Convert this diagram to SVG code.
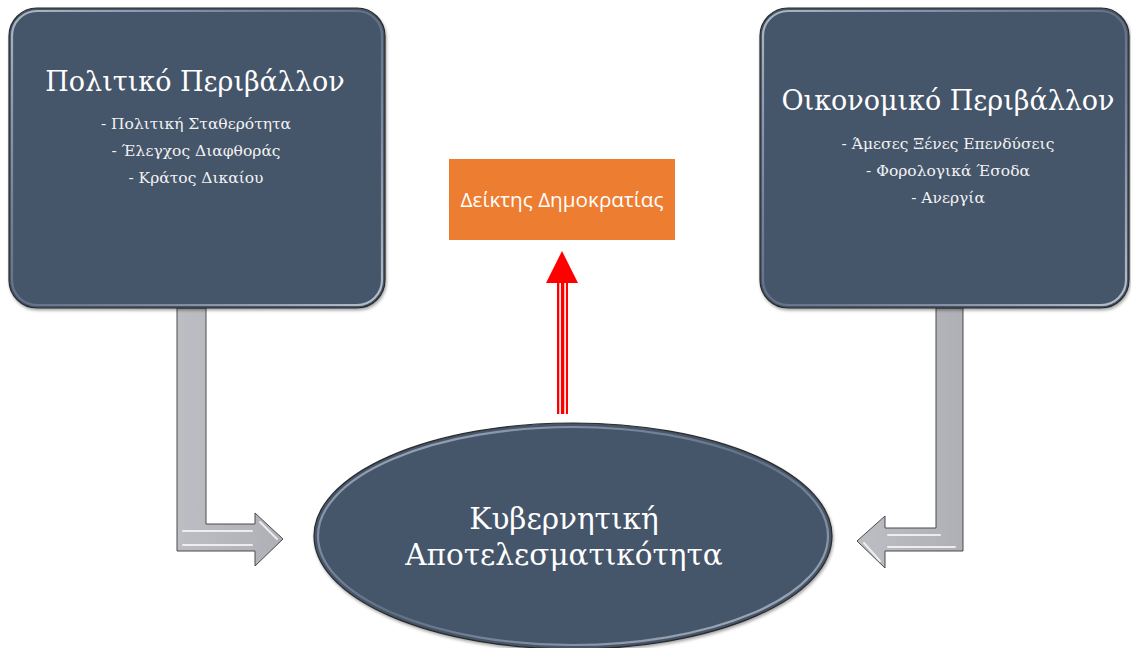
<svg xmlns="http://www.w3.org/2000/svg" width="1131" height="648" viewBox="0 0 1131 648">
<style>
.box{fill:#44546a;stroke:#2b2b2b;stroke-width:1.2}
.bevel{fill:none;stroke:url(#bev);stroke-width:2.2}
.ttl{font-family:"DejaVu Serif","Liberation Serif",serif;fill:#ffffff;text-anchor:middle}
.sub{font-family:"DejaVu Serif","Liberation Serif",serif;fill:#f2f2f2;text-anchor:middle;font-size:15.5px}
.garrow{fill:url(#gray);stroke:#4a4a4a;stroke-width:1}
.hl{stroke:#ffffff;stroke-opacity:0.75;stroke-width:2;fill:none;stroke-linecap:round}
</style>
<defs>
<linearGradient id="bev" x1="0" y1="0" x2="1" y2="1">
<stop offset="0" stop-color="#b9c3d1" stop-opacity="0.9"/>
<stop offset="0.5" stop-color="#7f8ba0" stop-opacity="0.5"/>
<stop offset="1" stop-color="#c5cdd8" stop-opacity="0.9"/>
</linearGradient>
<linearGradient id="gray" x1="0" y1="0" x2="1" y2="0">
<stop offset="0" stop-color="#bcbec3"/>
<stop offset="1" stop-color="#aeb0b5"/>
</linearGradient>
<filter id="sh" x="-10%" y="-10%" width="120%" height="120%">
<feDropShadow dx="1" dy="2" stdDeviation="1.5" flood-color="#000" flood-opacity="0.35"/>
</filter>
</defs>

<g id="connectors">
<g id="arrow-left">
<path class="garrow" d="M177,308 L206,308 L206,524 L255,524 L255,513 L283,539 L255,566 L255,551 L177,551 Z"/>
<path class="hl" d="M183,531 L252,531 M183,545 L252,545 M260,522 L277,539"/>
</g>
<g id="arrow-right">
<path class="garrow" d="M936,308 L963,308 L963,551 L885,551 L885,568 L857,541 L885,516 L885,528 L936,528 Z"/>
<path class="hl" d="M888,535 L940,535 M888,547 L955,547 M864,543 L880,561"/>
</g>
<g id="arrow-red">
<rect x="557" y="283" width="11" height="131" fill="#ff0000"/>
<rect x="559.3" y="283" width="1.6" height="131" fill="#ffffff"/>
<rect x="564.3" y="283" width="1.6" height="131" fill="#ffffff"/>
<polygon points="562,251 578,283 546,283" fill="#ff0000"/>
</g>
</g>

<g id="node-political">
<rect class="box" x="9" y="8" width="376" height="300" rx="28" ry="28" filter="url(#sh)"/>
<rect class="bevel" x="12" y="11" width="370" height="294" rx="25" ry="25"/>
<text class="ttl" x="195" y="91" font-size="27">Πολιτικό Περιβάλλον</text>
<text class="sub" x="196" y="129">- Πολιτική Σταθερότητα</text>
<text class="sub" x="196" y="156">- Έλεγχος Διαφθοράς</text>
<text class="sub" x="196" y="183">- Κράτος Δικαίου</text>
</g>

<g id="node-economic">
<rect class="box" x="760" y="8" width="369" height="300" rx="28" ry="28" filter="url(#sh)"/>
<rect class="bevel" x="763" y="11" width="363" height="294" rx="25" ry="25"/>
<text class="ttl" x="948" y="110" font-size="27">Οικονομικό Περιβάλλον</text>
<text class="sub" x="948" y="149">- Άμεσες Ξένες Επενδύσεις</text>
<text class="sub" x="948" y="176">- Φορολογικά Έσοδα</text>
<text class="sub" x="948" y="203">- Ανεργία</text>
</g>

<g id="node-democracy">
<rect x="449" y="159" width="226" height="81" fill="#ed7d31"/>
<text x="562" y="207" font-family="'Open Sans','Liberation Sans',sans-serif" font-size="20.7" fill="#ffffff" text-anchor="middle">Δείκτης Δημοκρατίας</text>
</g>

<g id="node-effectiveness">
<ellipse cx="573" cy="536" rx="259" ry="113" class="box" filter="url(#sh)"/>
<ellipse cx="573" cy="536" rx="255" ry="109" class="bevel"/>
<text class="ttl" x="564" y="529" font-size="29.5">Κυβερνητική</text>
<text class="ttl" x="564" y="565" font-size="29.5">Αποτελεσματικότητα</text>
</g>
</svg>
